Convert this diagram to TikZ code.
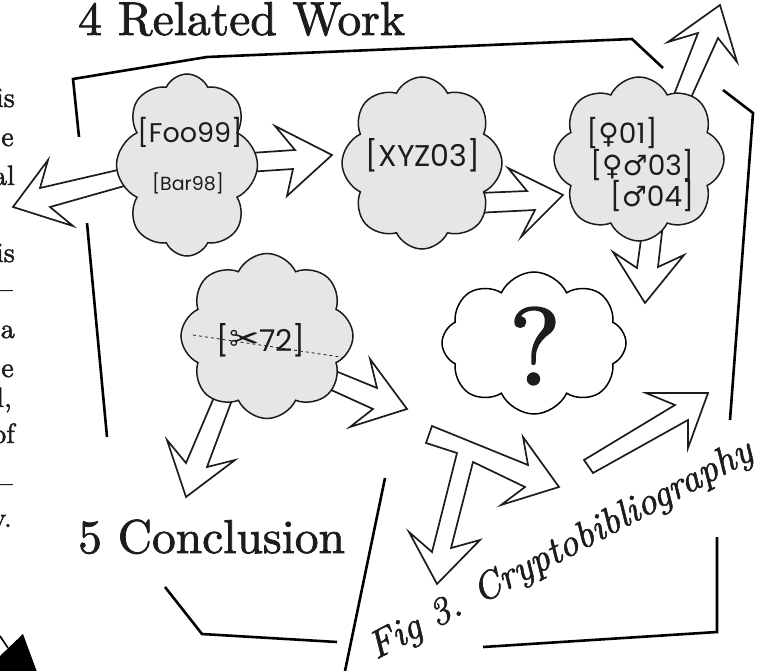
\documentclass[tikz,border=0pt]{standalone}
\usepackage{fontspec}
\usetikzlibrary{shapes.symbols}
\newfontfamily\headfont[FakeBold=1.6]{lmroman10-regular.otf}
\newfontfamily\capfont[FakeBold=1.4]{lmroman10-italic.otf}
\newfontfamily\cloudfont{Poppins}
\newfontfamily\symfont{DejaVu Sans}
\definecolor{cloudgray}{HTML}{E6E6E6}
\definecolor{ink}{HTML}{1C1C1C}
\begin{document}
\begin{tikzpicture}[x=1pt,y=-1pt,
  frameline/.style={line width=2.6pt, black},
  bigarrow/.style={draw=ink, fill=white, line width=1.7pt, line join=miter},
  cloudbox/.style={cloud, cloud puffs=8, cloud puff arc=130, cloud ignores aspect, draw=ink, line width=1.5pt, fill=cloudgray, inner sep=0pt},
  qcloud/.style={cloudbox, fill=white, draw=black},
  bodytext/.style={anchor=base east, inner sep=0pt, font=\headfont\fontsize{28}{30}\selectfont, text=ink},
  reftext/.style={inner sep=0pt, text=ink, font=\cloudfont\fontsize{27}{30}\selectfont}]
\useasboundingbox (0,0) rectangle (760,671);

% frame lines
\draw[frameline] (79,137) -- (73,79) -- (207,57) -- (632,39) -- (663,68);
\draw[frameline] (723,90) -- (753,113) -- (730,420);
\draw[frameline] (717,537) -- (717,632) -- (483,647);
\draw[frameline] (165,587) -- (202,634) -- (337,642);
\draw[frameline] (87,223) -- (107,437);
\draw[frameline] (385,478) -- (345,671);

% black arrow at bottom left
\fill[black] (0,656) -- (23,634) -- (37,672) -- (0,672) -- cycle;
\draw[line width=1.6pt] (0,636) -- (8,648);

% hollow arrows
\draw[bigarrow] (135,166) -- (40,188) -- (48,160) -- (13,207) -- (73,226) -- (50,207) -- (135,183) -- cycle;
\draw[bigarrow] (235,154) -- (295,150) -- (275,126) -- (332,155) -- (287,196) -- (293,169) -- (232,173) -- cycle;
\draw[bigarrow] (455,194) -- (527,191) -- (508,168) -- (563,195) -- (521,237) -- (535,210) -- (455,214) -- cycle;
\draw[bigarrow] (668,110) -- (698,33) -- (668,42) -- (720,5) -- (737,62) -- (718,38) -- (680,122) -- cycle;
\draw[bigarrow] (643,225) -- (637,268) -- (613,252) -- (645,303) -- (684,255) -- (658,267) -- (664,215) -- cycle;
\draw[bigarrow] (215,395) -- (186,463) -- (167,440) -- (186,497) -- (235,460) -- (207,467) -- (232,400) -- cycle;
\draw[bigarrow] (311,361) -- (377,388) -- (370,359) -- (407,409) -- (350,427) -- (373,409) -- (296,374) -- cycle;
\draw[bigarrow] (584,460) -- (675,405) -- (646,393) -- (708,393) -- (688,448) -- (688,420) -- (593,473) -- cycle;
\draw[bigarrow] (432,426) -- (528,465) -- (523,437) -- (559,487) -- (501,505) -- (525,487) -- (473,462) -- (451,548) -- (480,540) -- (437,584) -- (409,532) -- (432,552) -- (457,453) -- (426,443) -- cycle;

% clouds
\node[cloudbox, minimum width=141pt, minimum height=182pt, shape border rotate=10] (cfoo) at (187,165) {};
\node[cloudbox, minimum width=160pt, minimum height=172pt, shape border rotate=-15] (cxyz) at (422,163) {};
\node[cloudbox, minimum width=170pt, minimum height=164pt, shape border rotate=20] (cven) at (639,159) {};
\node[cloudbox, minimum width=172pt, minimum height=165pt, shape border rotate=-8] (ccut) at (267,336) {};
\node[qcloud, minimum width=184pt, minimum height=142pt, shape border rotate=5] (cq) at (534,343) {};

% cloud labels
\node[reftext] (foo) at (190,132) {[Foo99]};
\node[reftext, font=\cloudfont\fontsize{19}{22}\selectfont] (bar) at (188,183) {[Bar98]};
\node[reftext, font=\cloudfont\fontsize{30}{33}\selectfont] (xyz) at (423,155) {[XYZ03]};
\node[reftext, font=\cloudfont\fontsize{28}{30}\selectfont] (v1) at (622,133) {[{\symfont\char"2640}01]};
\node[reftext, font=\cloudfont\fontsize{28}{30}\selectfont] (v2) at (642,165) {[{\symfont\char"2640\char"2642}03]};
\node[reftext, font=\cloudfont\fontsize{28}{30}\selectfont] (v3) at (652,196) {[{\symfont\char"2642}04]};
\node[reftext, font=\cloudfont\fontsize{30}{33}\selectfont] (cut) at (261,340) {[{\symfont\fontsize{36}{36}\selectfont\char"2702}72]};
\coordinate (cutA) at (193,335);
\coordinate (cutB) at (347,358);
\draw[dashed, line width=0.8pt, ink] (cutA) -- (cutB);
\node[inner sep=0pt, font=\headfont\fontsize{110}{110}\selectfont, text=ink] (qm) at (535,346) {?};

% headings
\node[anchor=base west, inner sep=0pt, text=ink] (title) at (78,35) {\headfont\fontsize{47.5}{50}\selectfont 4 Related Work};
\node[anchor=base west, inner sep=0pt, text=ink] (concl) at (78,553) {\headfont\fontsize{47.5}{50}\selectfont 5 Conclusion};
\node[anchor=base west, inner sep=0pt, rotate=28, text=ink] (caption) at (376,660) {\capfont\fontsize{38.5}{40}\selectfont Fig 3. Cryptobibliography};

% clipped body text on the left
\node[bodytext] (t1) at (15,107) {is};
\node[bodytext] (t2) at (14,146) {e};
\node[bodytext] (t3) at (15,185) {al};
\node[bodytext] (t4) at (15,262) {is};
\node[bodytext] (t5) at (13,298) {–};
\node[bodytext] (t6) at (15,338) {a};
\node[bodytext] (t7) at (14,377) {e};
\node[bodytext] (t8) at (12,407) {l,};
\node[bodytext] (t9) at (15,443) {of};
\node[bodytext] (t10) at (13,492) {–};
\node[bodytext] (t11) at (12,527) {y.};
\end{tikzpicture}
\end{document}
